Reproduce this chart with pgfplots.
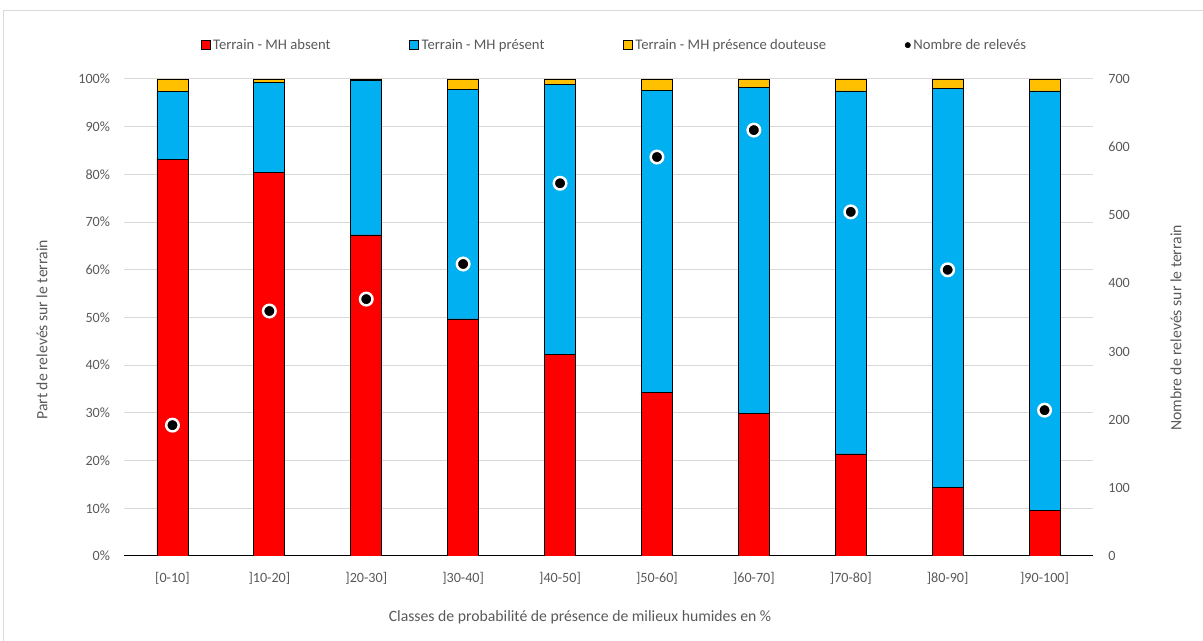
\documentclass[border=0pt]{standalone}
\usepackage{pgfplots}
\pgfplotsset{compat=1.18}
\usepackage{fontspec}
\setmainfont{Carlito}
\definecolor{cred}{HTML}{FF0000}
\definecolor{cblue}{HTML}{00B0F0}
\definecolor{cyel}{HTML}{FFC000}
\definecolor{ctxt}{HTML}{595959}
\definecolor{cgrid}{HTML}{D9D9D9}
\begin{document}
\begin{tikzpicture}
\path[use as bounding box] (0,0) rectangle (902.25pt,480.75pt);
\draw[cgrid, line width=0.75pt] (2.25pt,-10pt) rectangle (920pt,472.5pt);
\begin{axis}[
  at={(93pt,63.75pt)}, anchor=south west,
  scale only axis, width=726.75pt, height=357.75pt,
  ybar stacked, bar width=23.25pt,
  xmin=-0.5, xmax=9.5, ymin=0, ymax=100,
  xtick={0,...,9},
  xticklabels={{[0-10]},{]10-20]},{]20-30]},{]30-40]},{]40-50]},{]50-60]},{]60-70]},{]70-80]},{]80-90]},{]90-100]}},
  ytick={0,10,...,100},
  yticklabel={\pgfmathprintnumber{\tick}\%},
  /pgf/number format/assume math mode=true,
  axis x line*=bottom, axis y line*=left,
  y axis line style={draw=none},
  x axis line style={black, line width=0.75pt, -},
  major tick length=0pt,
  ymajorgrids, grid style={cgrid, line width=0.75pt},
  tick label style={font=\fontsize{10.6}{12}\selectfont, text=ctxt},
  xticklabel style={yshift=-9pt},
  yticklabel style={xshift=-7pt},
  xlabel={Classes de probabilité de présence de milieux humides en \%},
  ylabel={Part de relevés sur le terrain},
  label style={font=\fontsize{11.8}{13}\selectfont, text=ctxt},
  xlabel style={at={(axis description cs:0.4706,0)}, anchor=center, yshift=-46pt},
  ylabel style={at={(axis description cs:-0.0846,0.474)}, anchor=center},
  legend style={draw=none, fill=none, legend columns=4, at={(axis description cs:0.5065,1.071)}, anchor=center,
    font=\fontsize{11}{12}\selectfont, text=ctxt,
    /tikz/every even column/.append style={column sep=57pt}},
  legend image code/.code={\draw[#1, draw=black, line width=0.5pt] (0pt,-3.4pt) rectangle (6.8pt,3.4pt);},
]
\addplot[fill=cred, draw=black, line width=0.6pt] coordinates {(0,83.2) (1,80.5) (2,67.3) (3,49.7) (4,42.3) (5,34.2) (6,29.8) (7,21.4) (8,14.3) (9,9.6)};
\addlegendentry{Terrain - MH absent}
\addplot[fill=cblue, draw=black, line width=0.6pt] coordinates {(0,14.1) (1,18.7) (2,32.4) (3,48.1) (4,56.5) (5,63.4) (6,68.5) (7,76.1) (8,83.7) (9,87.9)};
\addlegendentry{Terrain - MH présent}
\addplot[fill=cyel, draw=black, line width=0.6pt] coordinates {(0,2.7) (1,0.8) (2,0.3) (3,2.2) (4,1.2) (5,2.4) (6,1.7) (7,2.5) (8,2.0) (9,2.5)};
\addlegendentry{Terrain - MH présence douteuse}
\addlegendimage{legend image code/.code={\fill[black] (3pt,0pt) circle (2pt);}}
\addlegendentry{Nombre de relevés}
\end{axis}
\begin{axis}[
  at={(93pt,63.75pt)}, anchor=south west,
  scale only axis, width=726.75pt, height=357.75pt,
  xmin=-0.5, xmax=9.5, ymin=0, ymax=700,
  ytick={0,100,...,700},
  axis x line=none, axis y line*=right,
  y axis line style={draw=none},
  major tick length=0pt,
  /pgf/number format/assume math mode=true,
  tick label style={font=\fontsize{10.6}{12}\selectfont, text=ctxt},
  yticklabel style={xshift=8pt},
  ylabel={Nombre de relevés sur le terrain},
  label style={font=\fontsize{11.8}{13}\selectfont, text=ctxt},
  ylabel style={at={(axis description cs:1.0856,0.478)}, anchor=center},
]
\addplot[only marks, mark=*, mark size=4.7pt, mark options={fill=black, draw=white, line width=1.85pt}] coordinates {(0,192) (1,359.5) (2,377) (3,428.5) (4,547) (5,585.5) (6,625) (7,505) (8,420) (9,214)};
\end{axis}
\end{tikzpicture}
\end{document}
